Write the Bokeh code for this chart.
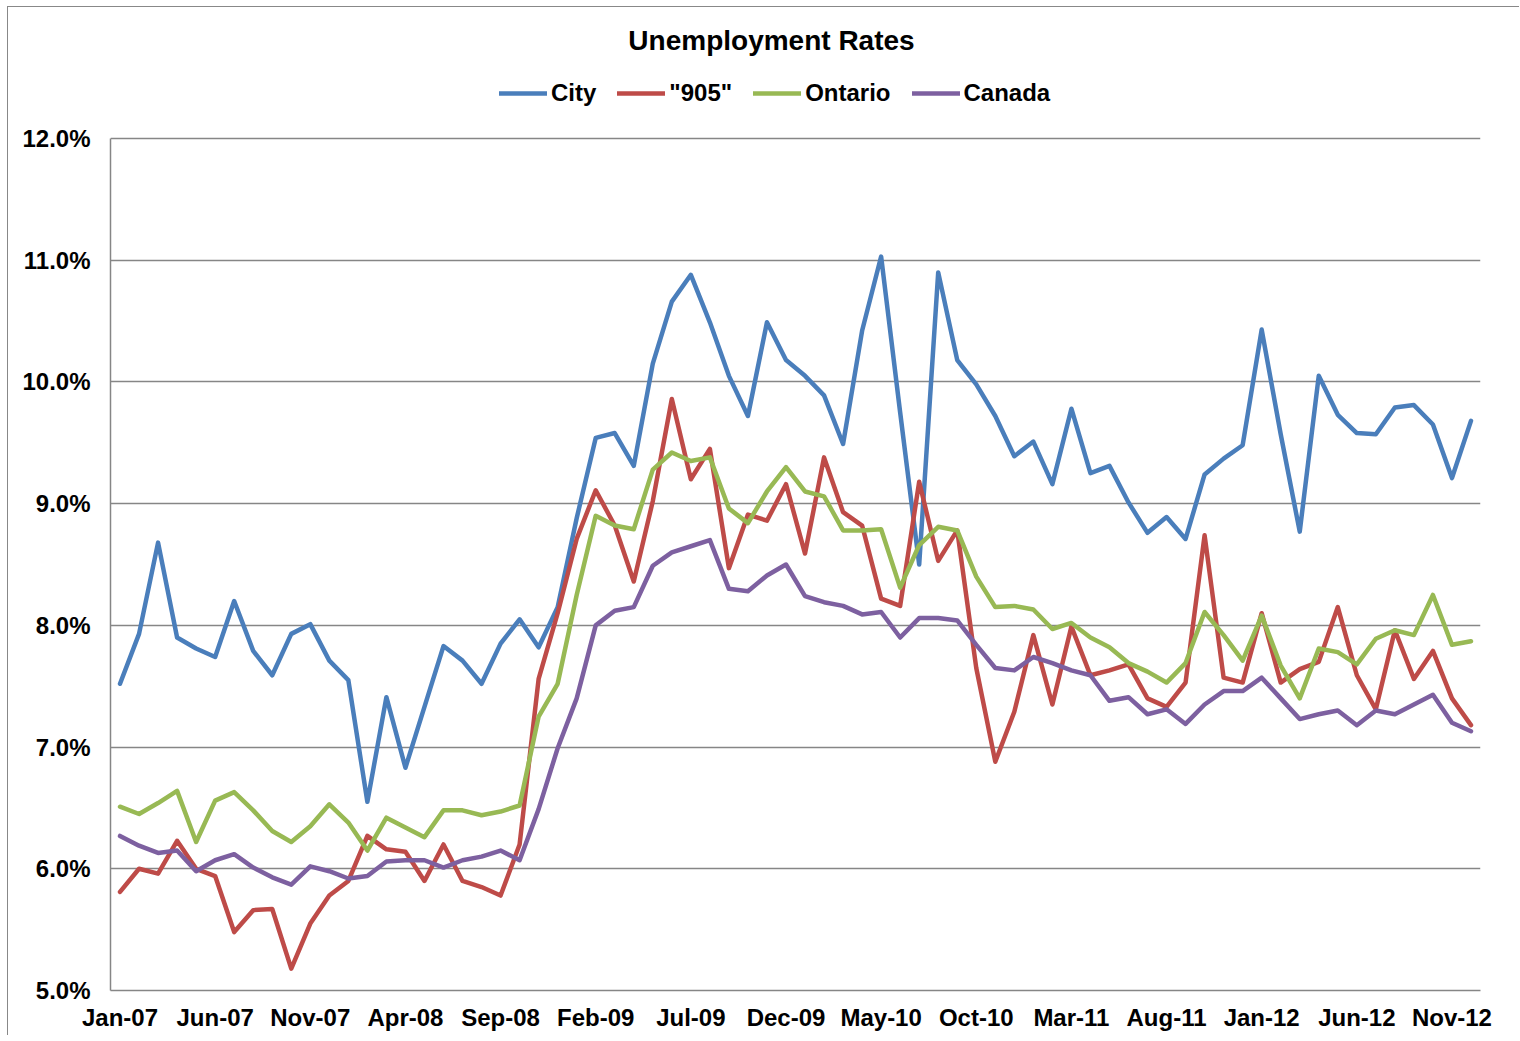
from bokeh.plotting import figure
from bokeh.models import (ColumnDataSource, FixedTicker, PrintfTickFormatter, Range1d,
                          Legend, LegendItem, Label)
from bokeh.embed import file_html
from bokeh.resources import INLINE

# ---------------- data ----------------
month_names = ["Jan", "Feb", "Mar", "Apr", "May", "Jun",
               "Jul", "Aug", "Sep", "Oct", "Nov", "Dec"]
years = ["07", "08", "09", "10", "11", "12"]
months = [f"{m}-{y}" for y in years for m in month_names]

city = [7.52, 7.93, 8.68, 7.90, 7.81, 7.74, 8.20, 7.79, 7.59, 7.93, 8.01, 7.71,
        7.55, 6.55, 7.41, 6.83, 7.33, 7.83, 7.71, 7.52, 7.85, 8.05, 7.82, 8.15,
        8.88, 9.54, 9.58, 9.31, 10.15, 10.66, 10.88, 10.49, 10.05, 9.72, 10.49, 10.18,
        10.05, 9.89, 9.49, 10.42, 11.03, 9.75, 8.50, 10.90, 10.18, 9.98, 9.72, 9.39,
        9.51, 9.16, 9.78, 9.25, 9.31, 9.01, 8.76, 8.89, 8.71, 9.24, 9.37, 9.48,
        10.43, 9.57, 8.77, 10.05, 9.73, 9.58, 9.57, 9.79, 9.81, 9.65, 9.21, 9.68]

r905 = [5.81, 6.00, 5.96, 6.23, 6.00, 5.94, 5.48, 5.66, 5.67, 5.18, 5.55, 5.78,
        5.90, 6.27, 6.16, 6.14, 5.90, 6.20, 5.90, 5.85, 5.78, 6.20, 7.56, 8.10,
        8.71, 9.11, 8.82, 8.36, 9.02, 9.86, 9.20, 9.45, 8.47, 8.91, 8.86, 9.16,
        8.59, 9.38, 8.93, 8.82, 8.22, 8.16, 9.18, 8.53, 8.78, 7.65, 6.88, 7.29,
        7.92, 7.35, 7.99, 7.59, 7.63, 7.68, 7.40, 7.33, 7.53, 8.74, 7.57, 7.53,
        8.10, 7.53, 7.64, 7.70, 8.15, 7.59, 7.31, 7.96, 7.56, 7.79, 7.40, 7.18]

ontario = [6.51, 6.45, 6.54, 6.64, 6.22, 6.56, 6.63, 6.48, 6.31, 6.22, 6.35, 6.53,
           6.38, 6.15, 6.42, 6.34, 6.26, 6.48, 6.48, 6.44, 6.47, 6.52, 7.25, 7.52,
           8.25, 8.90, 8.82, 8.79, 9.28, 9.42, 9.35, 9.38, 8.96, 8.84, 9.10, 9.30,
           9.10, 9.06, 8.78, 8.78, 8.79, 8.31, 8.66, 8.81, 8.78, 8.40, 8.15, 8.16,
           8.13, 7.97, 8.02, 7.90, 7.82, 7.69, 7.62, 7.53, 7.69, 8.11, 7.92, 7.71,
           8.08, 7.67, 7.40, 7.81, 7.78, 7.68, 7.89, 7.96, 7.92, 8.25, 7.84, 7.87]

canada = [6.27, 6.19, 6.13, 6.15, 5.98, 6.07, 6.12, 6.01, 5.93, 5.87, 6.02, 5.98,
          5.92, 5.94, 6.06, 6.07, 6.07, 6.01, 6.07, 6.10, 6.15, 6.07, 6.49, 6.99,
          7.40, 8.00, 8.12, 8.15, 8.49, 8.60, 8.65, 8.70, 8.30, 8.28, 8.41, 8.50,
          8.24, 8.19, 8.16, 8.09, 8.11, 7.90, 8.06, 8.06, 8.04, 7.84, 7.65, 7.63,
          7.74, 7.69, 7.63, 7.59, 7.38, 7.41, 7.27, 7.31, 7.19, 7.35, 7.46, 7.46,
          7.57, 7.40, 7.23, 7.27, 7.30, 7.18, 7.30, 7.27, 7.35, 7.43, 7.20, 7.13]

series_names = ["City", '"905"', "Ontario", "Canada"]
series_colors = ["#4A7EBB", "#BE4B48", "#98B954", "#7D60A0"]
tick_idx = list(range(0, 72, 5))
y_ticks = [5, 6, 7, 8, 9, 10, 11, 12]
y_min, y_max = 5, 12

# ---------------- layout constants ----------------
FONT = "Liberation Sans"
GRID = "#868686"
FRAME_W = 1370          # plot area width (px)
AXIS_H = 852            # height of the 5%..12% axis span (px)
HEADER_H = 131          # space above the 12% line for title and legend (px)
FRAME_H = AXIS_H + HEADER_H
y_top = y_min + (y_max - y_min) * FRAME_H / AXIS_H

src = ColumnDataSource(dict(x=list(range(len(months))), month=months,
                            city=city, r905=r905, ontario=ontario, canada=canada))

p = figure(frame_width=FRAME_W, frame_height=FRAME_H, output_backend="svg",
           toolbar_location=None,
           x_range=Range1d(-0.5, len(months) - 0.5), y_range=Range1d(y_min, y_top),
           min_border_left=102, min_border_right=39, min_border_top=0,
           min_border_bottom=45)
p.outline_line_color = None
p.background_fill_color = "white"
p.border_fill_color = "white"
p.styles = {"margin-left": "7px", "margin-top": "6px",
            "border-top": "1px solid #888888", "border-left": "1px solid #888888"}

# axes
p.xaxis.ticker = FixedTicker(ticks=tick_idx)
p.xaxis.major_label_overrides = {i: months[i] for i in tick_idx}
p.yaxis.ticker = FixedTicker(ticks=y_ticks)
p.yaxis.formatter = PrintfTickFormatter(format="%.1f%%")
p.yaxis.bounds = (y_min, y_max)
for ax in (p.xaxis, p.yaxis):
    ax.axis_line_color = GRID
    ax.axis_line_width = 1.5
    ax.major_tick_line_color = None
    ax.minor_tick_line_color = None
    ax.major_tick_in = 0
    ax.major_tick_out = 0
    ax.major_label_text_font = FONT
    ax.major_label_text_font_style = "bold"
    ax.major_label_text_font_size = "24px"
    ax.major_label_text_color = "black"
p.yaxis.major_label_standoff = 20
p.xaxis.major_label_standoff = 13

p.xgrid.grid_line_color = None
p.ygrid.grid_line_color = GRID
p.ygrid.grid_line_width = 1.5

# lines
keys = ["city", "r905", "ontario", "canada"]
items = []
for key, name, color in zip(keys, series_names, series_colors):
    r = p.line("x", key, source=src, line_color=color, line_width=4.5,
               line_join="round", line_cap="round")
    items.append(LegendItem(label=name, renderers=[r]))

legend = Legend(items=items, orientation="horizontal", location=(389, 883),
                glyph_width=48, glyph_height=24, label_height=24, label_standoff=4,
                spacing=21, padding=0, margin=0, border_line_color=None,
                background_fill_alpha=0, label_text_font=FONT,
                label_text_font_style="bold", label_text_font_size="24px",
                label_text_color="black")
p.add_layout(legend)

title = Label(x=661, y=950, x_units="screen", y_units="screen",
              text="Unemployment Rates", text_align="center",
              text_baseline="alphabetic", text_font=FONT, text_font_style="bold",
              text_font_size="28px", text_color="black")
p.add_layout(title)

open("out.html", "w").write(file_html(p, INLINE))
